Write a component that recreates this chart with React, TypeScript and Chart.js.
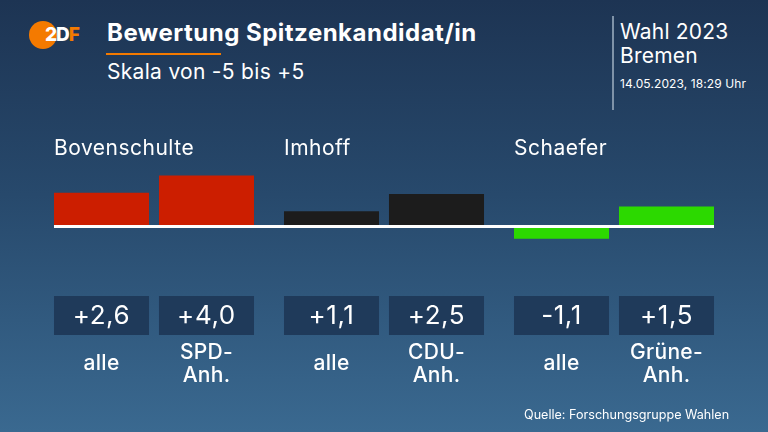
import React, { useEffect, useRef } from "react";
import { Chart, registerables } from "chart.js";

Chart.register(...registerables);

const candidates = ["Bovenschulte", "Imhoff", "Schaefer"];
const allValues = [2.6, 1.1, -1.1];
const supporterValues = [4.0, 2.5, 1.5];
const allLabels = ["alle", "alle", "alle"];
const supporterLabels = [["SPD-", "Anh."], ["CDU-", "Anh."], ["Grüne-", "Anh."]];
const partyColors = ["#cc1e00", "#1c1c1c", "#2cd900"];
const yTicks = [-5, 5];

const FONT = "Inter, 'Noto Sans', sans-serif";

function fmt(v: number): string {
  const s = Math.abs(v).toFixed(1).replace(".", ",");
  return (v < 0 ? "-" : "+") + s;
}

const overlayPlugin = {
  id: "overlay",
  afterDatasetsDraw(chart: any) {
    const ctx = chart.ctx;
    const y0 = chart.scales.y.getPixelForValue(0);
    const metas = [chart.getDatasetMeta(0), chart.getDatasetMeta(1)];
    const lineLabels = [allLabels, supporterLabels];
    const values = [allValues, supporterValues];
    ctx.save();
    const first = metas[0].data[0];
    const last = metas[1].data[metas[1].data.length - 1];
    const x1 = first.x - first.width / 2;
    const x2 = last.x + last.width / 2;
    ctx.fillStyle = "#ffffff";
    ctx.fillRect(x1, y0, x2 - x1, 3);
    ctx.fillStyle = "#ffffff";
    ctx.textBaseline = "alphabetic";
    ctx.textAlign = "left";
    ctx.font = `400 21px ${FONT}`;
    (ctx as any).letterSpacing = "0.5px";
    candidates.forEach((name, i) => {
      const b = metas[0].data[i];
      ctx.fillText(name, b.x - b.width / 2, 155);
    });
    metas.forEach((meta, d) => {
      meta.data.forEach((b: any, i: number) => {
        const left = b.x - b.width / 2;
        ctx.fillStyle = "#1f3a5a";
        ctx.fillRect(left, 296, b.width, 39);
        ctx.fillStyle = "#ffffff";
        ctx.textAlign = "center";
        ctx.textBaseline = "middle";
        ctx.font = `400 26px ${FONT}`;
        (ctx as any).letterSpacing = "0.6px";
        ctx.fillText(fmt(values[d][i]), b.x, 316);
        ctx.font = `500 21px ${FONT}`;
        (ctx as any).letterSpacing = "0.3px";
        const lbl = lineLabels[d][i];
        if (Array.isArray(lbl)) {
          ctx.fillText(lbl[0], b.x, 353);
          ctx.fillText(lbl[1], b.x, 376);
        } else {
          ctx.fillText(lbl, b.x, 364);
        }
      });
    });
    ctx.restore();
  },
};

export default function App() {
  const ref = useRef<HTMLCanvasElement | null>(null);
  useEffect(() => {
    if (!ref.current) return;
    const chart = new Chart(ref.current, {
      type: "bar",
      data: {
        labels: candidates,
        datasets: [
          {
            label: "alle",
            data: allValues,
            backgroundColor: partyColors,
            borderWidth: 0,
            categoryPercentage: 0.913,
            barPercentage: 0.905,
          },
          {
            label: "Anhänger",
            data: supporterValues,
            backgroundColor: partyColors,
            borderWidth: 0,
            categoryPercentage: 0.913,
            barPercentage: 0.905,
          },
        ],
      },
      options: {
        responsive: false,
        animation: false,
        events: [],
        layout: { padding: { left: 39, right: 39, top: 163, bottom: 145 } },
        plugins: { legend: { display: false }, tooltip: { enabled: false }, title: { display: false } },
        scales: {
          x: { display: false, grid: { display: false } },
          y: { display: false, min: yTicks[0], max: yTicks[1], grid: { display: false } },
        },
      },
      plugins: [overlayPlugin],
    });
    return () => chart.destroy();
  }, []);

  return (
    <div
      style={{
        position: "absolute",
        left: 0,
        top: 0,
        width: 768,
        height: 432,
        overflow: "hidden",
        background: "linear-gradient(to bottom, #1d3453 0%, #27496c 45%, #3a6990 100%)",
        fontFamily: FONT,
        color: "#ffffff",
      }}
    >
      <div style={{ position: "absolute", left: 29, top: 21, width: 28, height: 28, borderRadius: "50%", background: "#f47a00" }} />
      <div style={{ position: "absolute", left: 45, top: 24, fontSize: 19, fontWeight: 800, letterSpacing: -1, lineHeight: "22px" }}>
        <span style={{ color: "#ffffff" }}>2D</span>
        <span style={{ color: "#f47a00" }}>F</span>
      </div>
      <div style={{ position: "absolute", left: 107, top: 18, fontSize: 24, fontWeight: 700, letterSpacing: 0.5, lineHeight: "30px", whiteSpace: "nowrap" }}>
        Bewertung Spitzenkandidat/in
      </div>
      <div style={{ position: "absolute", left: 106, top: 53, width: 115, height: 2, background: "#f47a00" }} />
      <div style={{ position: "absolute", left: 107, top: 59, fontSize: 21, fontWeight: 400, letterSpacing: 0.3, lineHeight: "26px", whiteSpace: "nowrap" }}>
        Skala von -5 bis +5
      </div>
      <div style={{ position: "absolute", left: 612, top: 16, width: 2, height: 94, background: "#7f93a8" }} />
      <div style={{ position: "absolute", left: 620, top: 20, fontSize: 21, letterSpacing: 0.2, lineHeight: "24px", whiteSpace: "nowrap" }}>
        Wahl 2023
        <br />
        Bremen
      </div>
      <div style={{ position: "absolute", left: 620, top: 76, fontSize: 12, letterSpacing: 0.1, lineHeight: "16px", whiteSpace: "nowrap" }}>
        14.05.2023, 18:29 Uhr
      </div>
      <canvas ref={ref} width={768} height={432} style={{ position: "absolute", left: 0, top: 0, width: 768, height: 432 }} />
      <div style={{ position: "absolute", left: 524, top: 407, fontSize: 12.6, lineHeight: "16px", whiteSpace: "nowrap" }}>
        Quelle: Forschungsgruppe Wahlen
      </div>
    </div>
  );
}
